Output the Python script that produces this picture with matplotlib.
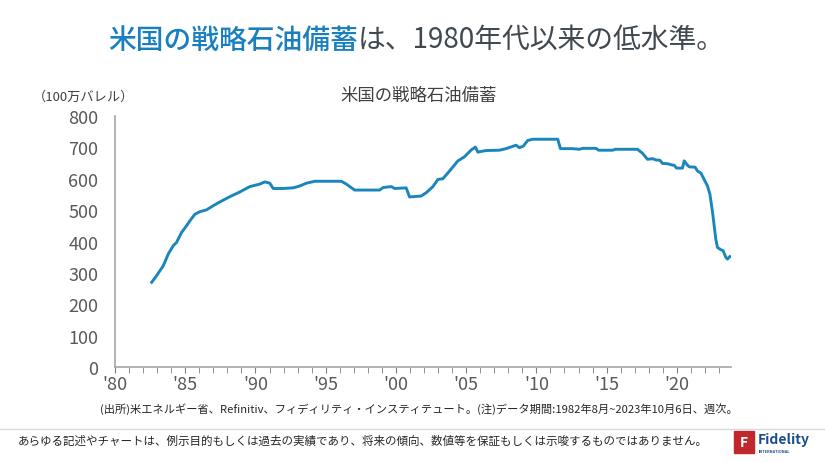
import numpy as np
import matplotlib.pyplot as plt
from matplotlib.patches import Rectangle
from matplotlib.lines import Line2D

plt.rcParams['font.family'] = ['Noto Sans CJK JP', 'DejaVu Sans']

# 米国の戦略石油備蓄 (100万バレル), 読み取り値
years = [1982.61, 1982.96, 1983.44, 1983.79, 1984.15, 1984.38, 1984.74, 1985.09, 1985.33,
         1985.69, 1986.04, 1986.52, 1986.99, 1987.46, 1988.18, 1988.89, 1989.6, 1989.95,
         1990.31, 1990.66, 1991.02, 1991.26, 1991.97, 1992.68, 1993.15, 1993.63, 1994.22,
         1996.11, 1996.47, 1997.06, 1998.84, 1999.08, 1999.67, 1999.91, 2000.73, 2000.97,
         2001.8, 2002.17, 2002.63, 2002.99, 2003.34, 2003.82, 2004.41, 2004.88, 2005.36,
         2005.66, 2005.83, 2006.42, 2007.37, 2007.84, 2008.55, 2008.79, 2009.07, 2009.38,
         2009.74, 2011.52, 2011.71, 2012.58, 2013.06, 2013.3, 2014.24, 2014.43, 2015.43,
         2015.62, 2017.2, 2017.56, 2017.91, 2018.27, 2018.51, 2018.79, 2018.98, 2019.34,
         2019.64, 2019.81, 2019.98, 2020.4, 2020.52, 2020.76, 2020.88, 2021.3, 2021.47,
         2021.71, 2021.94, 2022.18, 2022.35, 2022.54, 2022.77, 2022.89, 2023.13, 2023.29,
         2023.48, 2023.6, 2023.77]
spr = [270, 291, 323, 360, 387, 397, 429, 450, 466,
       487, 495, 501, 514, 526, 543, 558, 575, 579,
       583, 590, 586, 569, 569, 571, 577, 586, 592,
       592, 583, 564, 564, 572, 575, 569, 571, 542,
       545, 556, 575, 598, 600, 625, 657, 670, 692,
       701, 685, 690, 691, 696, 707, 699, 704, 722,
       726, 726, 696, 696, 694, 697, 697, 691, 691,
       694, 694, 681, 662, 664, 660, 659, 649, 648,
       644, 643, 634, 634, 657, 643, 638, 637, 625,
       618, 598, 577, 551, 493, 408, 381, 374, 371,
       350, 344, 352]

yticks = [0, 100, 200, 300, 400, 500, 600, 700, 800]
xticks = [1980, 1985, 1990, 1995, 2000, 2005, 2010, 2015, 2020]
xlabels = ["'80", "'85", "'90", "'95", "'00", "'05", "'10", "'15", "'20"]

blue = '#1a86bc'
gray = '#595959'

fig = plt.figure(figsize=(8.25, 4.64), dpi=100)
ax = fig.add_axes([0.1394, 0.2069, 0.7466, 0.5409])

ax.plot(years, spr, color=blue, lw=2.1, solid_joinstyle='round')

ax.set_xlim(1980, 2023.85)
ax.set_ylim(0, 800)
ax.set_yticks(yticks)
ax.set_yticklabels([str(v) for v in yticks], fontsize=13, color=gray)
ax.set_xticks(xticks)
ax.set_xticklabels(xlabels, fontsize=13, color=gray)
ax.set_xticks(np.arange(1980, 2024), minor=True)
ax.tick_params(axis='y', length=0, pad=12)
ax.tick_params(axis='x', which='both', length=4, color='#7f7f7f', pad=2)
for s in ['top', 'right']:
    ax.spines[s].set_visible(False)
for s in ['left', 'bottom']:
    ax.spines[s].set_color('#a6a6a6')
    ax.spines[s].set_linewidth(1.2)

# タイトル
fig.text(358 / 825, 1 - 40 / 464, '米国の戦略石油備蓄', color='#1a7fbf', fontsize=20,
         ha='right', va='center', fontweight='medium')
fig.text(358 / 825, 1 - 40 / 464, 'は、1980年代以来の低水準。', color='#404850', fontsize=20,
         ha='left', va='center')

fig.text(419 / 825, 1 - 96 / 464, '米国の戦略石油備蓄', color='#404040', fontsize=12.5,
         ha='center', va='center')
fig.text(84 / 825, 1 - 97 / 464, '（100万バレル）', color='#404040', fontsize=9.5,
         ha='center', va='center')

fig.text(100 / 825, 1 - 409 / 464,
         '(出所)米エネルギー省、Refinitiv、フィディリティ・インスティテュート。(注)データ期間:1982年8月~2023年10月6日、週次。',
         color='#262626', fontsize=8.1, ha='left', va='center')

fig.add_artist(Line2D([0, 1], [1 - 430 / 464, 1 - 430 / 464], color='#d9d9d9', lw=1))

fig.text(18 / 825, 1 - 441 / 464,
         'あらゆる記述やチャートは、例示目的もしくは過去の実績であり、将来の傾向、数値等を保証もしくは示唆するものではありません。',
         color='#262626', fontsize=8.3, ha='left', va='center')

# ロゴ
fig.add_artist(Rectangle((734 / 825, 1 - 454 / 464), 20 / 825, 22 / 464,
                         color='#c0282d', transform=fig.transFigure))
fig.text(744 / 825, 1 - 443 / 464, 'F', color='white', fontsize=10, fontweight='bold',
         ha='center', va='center')
fig.text(758 / 825, 1 - 440 / 464, 'Fidelity', color='#1c4e8c', fontsize=10,
         fontweight='bold', ha='left', va='center')
fig.text(759 / 825, 1 - 452 / 464, 'INTERNATIONAL', color='#1c4e8c', fontsize=2.8,
         fontweight='bold', ha='left', va='center')

fig.savefig('out.png', dpi=100, facecolor='white')
